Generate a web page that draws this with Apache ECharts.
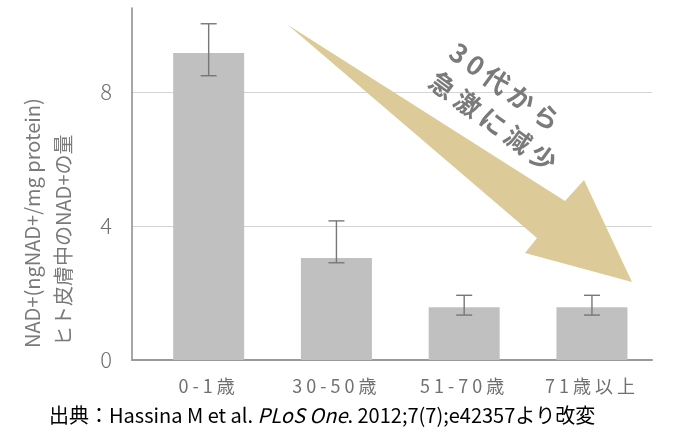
<!DOCTYPE html>
<html>
<head>
<meta charset="utf-8">
<script src="https://cdn.jsdelivr.net/npm/echarts@6/dist/echarts.min.js"></script>
<style>
html,body{margin:0;padding:0;background:#fff;}
#chart{width:677px;height:437px;}
</style>
</head>
<body>
<div id="chart"></div>
<script>
// ---- data ----
const categories = ['0-1歳', '30-50歳', '51-70歳', '71歳以上'];
const categoryIndex = [0, 1, 2, 3];
const nadMean = [9.16, 3.04, 1.57, 1.57];
const errLow = [8.48, 2.90, 1.34, 1.34];
const errHigh = [10.03, 4.15, 1.93, 1.93];
const yTickValues = [0, 4, 8];
const yAxisNameLines = ['NAD+(ngNAD+/mg protein)', 'ヒト皮膚中のNAD+の量'];
const noteLines = ['30代から', '急激に減少'];
const sourceParts = ['出典：Hassina M et al. ', 'PLoS One', '. 2012;7(7);e42357より改変'];

const FONT = '"Noto Sans CJK JP", "Noto Sans", sans-serif';
const GRAY = '#7a7a7a';

// letter spacing for the spaced-out labels (applied by font size)
const spacingBySize = {'18px': '4px', '26px': '5px'};
(function () {
  const proto = CanvasRenderingContext2D.prototype;
  if (!('letterSpacing' in proto)) return;
  const orig = proto.fillText;
  proto.fillText = function (t, x, y, w) {
    const m = /(\d+px)/.exec(this.font || '');
    const sp = m ? spacingBySize[m[1]] : null;
    this.save();
    this.letterSpacing = sp || '0px';
    const r = w === undefined ? orig.call(this, t, x, y) : orig.call(this, t, x, y, w);
    this.restore();
    return r;
  };
})();

const barData = categoryIndex.map((x, i) => [x, nadMean[i]]);
const errData = categoryIndex.map((x, i) => [x, errLow[i], errHigh[i]]);

const chart = echarts.init(document.getElementById('chart'), null, {renderer: 'canvas'});

const option = {
  backgroundColor: '#fff',
  animation: false,
  grid: {left: 132, right: 25, top: 8, bottom: 77, containLabel: false},
  xAxis: {
    type: 'value',
    min: -0.6,
    max: 3.47,
    splitLine: {show: false},
    axisTick: {show: false},
    axisLine: {show: true, lineStyle: {color: '#9a9a9a', width: 2}},
    axisLabel: {
      customValues: categoryIndex,
      formatter: v => categories[Math.round(v)],
      color: '#707070',
      fontSize: 18,
      fontFamily: FONT,
      margin: 17
    }
  },
  yAxis: {
    type: 'value',
    min: 0,
    max: 10.5,
    interval: 4,
    axisLine: {show: true, onZero: false, lineStyle: {color: '#8a8a8a', width: 1.5}},
    axisTick: {show: false, customValues: yTickValues},
    splitLine: {show: true, lineStyle: {color: '#d4d4d4', width: 1}},
    axisLabel: {
      customValues: yTickValues,
      color: '#707070',
      fontSize: 22,
      fontWeight: 300,
      fontFamily: FONT,
      margin: 20
    }
  },
  series: [
    {
      type: 'bar',
      data: barData,
      barWidth: 71,
      itemStyle: {color: '#c0c0c0'},
      z: 2
    },
    {
      type: 'custom',
      data: errData,
      z: 3,
      renderItem: function (params, api) {
        const x = api.value(0);
        const lo = api.coord([x, api.value(1)]);
        const hi = api.coord([x, api.value(2)]);
        const hw = 8;
        const style = {stroke: '#777', lineWidth: 1.4};
        return {
          type: 'group',
          children: [
            {type: 'line', shape: {x1: hi[0], y1: hi[1], x2: lo[0], y2: lo[1]}, style: style},
            {type: 'line', shape: {x1: hi[0] - hw, y1: hi[1], x2: hi[0] + hw, y2: hi[1]}, style: style},
            {type: 'line', shape: {x1: lo[0] - hw, y1: lo[1], x2: lo[0] + hw, y2: lo[1]}, style: style}
          ]
        };
      }
    }
  ],
  graphic: [
    {
      type: 'polygon',
      z: 10,
      silent: true,
      shape: {points: [[288, 25], [565, 201], [584, 180], [632, 282], [525, 253], [537, 238]]},
      style: {fill: '#dccb98'}
    },
    {
      type: 'text', z: 11, x: 507, y: 88, rotation: -36 * Math.PI / 180,
      style: {text: noteLines[0], fill: GRAY, font: 'bold 26px ' + FONT, textAlign: 'center', textVerticalAlign: 'middle'}
    },
    {
      type: 'text', z: 11, x: 495, y: 123, rotation: -36 * Math.PI / 180,
      style: {text: noteLines[1], fill: GRAY, font: 'bold 26px ' + FONT, textAlign: 'center', textVerticalAlign: 'middle'}
    },
    {
      type: 'text', z: 11, x: 32, y: 348, rotation: Math.PI / 2,
      style: {text: yAxisNameLines[0], fill: GRAY, font: '20px ' + FONT, textAlign: 'left', textVerticalAlign: 'middle'}
    },
    {
      type: 'text', z: 11, x: 63, y: 346, rotation: Math.PI / 2,
      style: {text: yAxisNameLines[1], fill: GRAY, font: '20px ' + FONT, textAlign: 'left', textVerticalAlign: 'middle'}
    },
    {
      type: 'text', z: 11, x: 49, y: 415,
      style: {
        text: '{n|' + sourceParts[0] + '}{i|' + sourceParts[1] + '}{n|' + sourceParts[2] + '}',
        textVerticalAlign: 'middle',
        textAlign: 'left',
        rich: {
          n: {fontSize: 20, fontFamily: FONT, color: GRAY},
          i: {fontSize: 20, fontFamily: FONT, color: GRAY, fontStyle: 'italic'}
        }
      }
    }
  ]
};
chart.setOption(option);
</script>
</body>
</html>
